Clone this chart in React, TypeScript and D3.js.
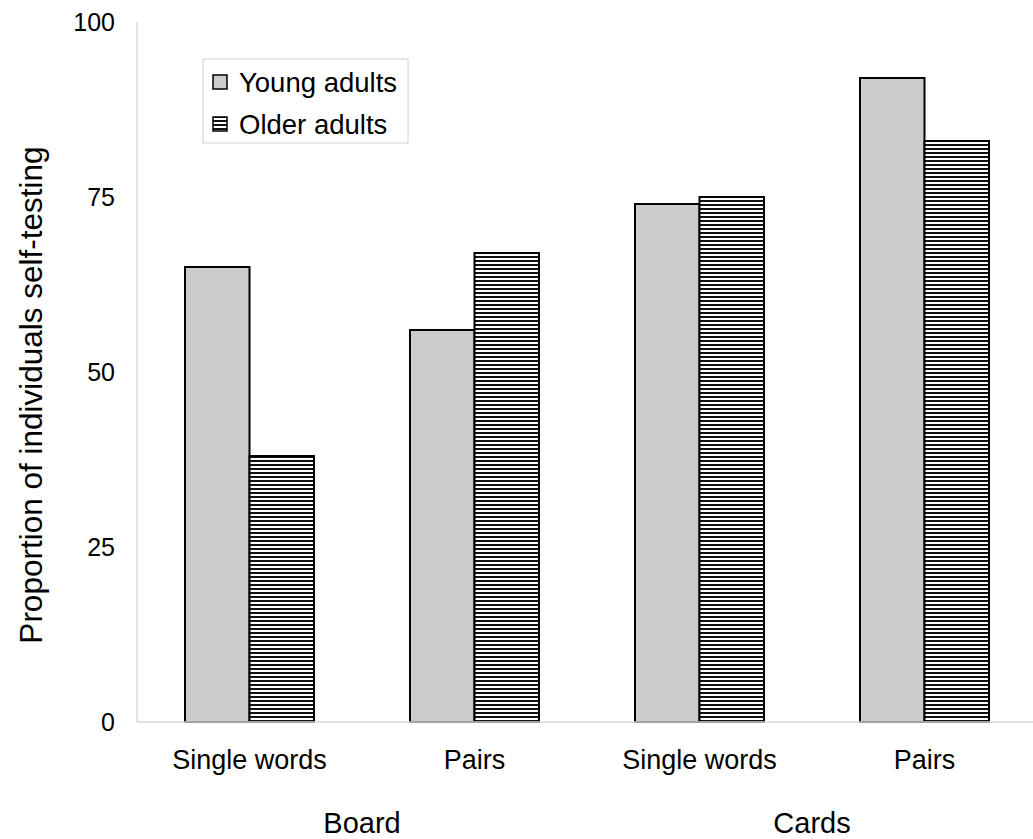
import React from "react";
import * as d3 from "d3";

const categories = ["Single words", "Pairs", "Single words", "Pairs"];
const groups = ["Board", "Cards"];
const series = ["Young adults", "Older adults"];
const youngValues = [65, 56, 74, 92];
const olderValues = [38, 67, 75, 83];
const yTicks = [0, 25, 50, 75, 100];

const W = 1033;
const H = 839;
const left = 137;
const right = 1037;
const top = 22;
const bottom = 722;

export default function App() {
  const x = d3.scaleBand<number>().domain(d3.range(categories.length)).range([left, right]);
  const y = d3.scaleLinear().domain([0, 100]).range([bottom, top]);
  const barW = 64.5;
  const font = "Arial, 'Liberation Sans', sans-serif";
  const data = categories.map((c, i) => ({ c, i, v: [youngValues[i], olderValues[i]] }));

  return (
    <svg width={W} height={H} style={{ position: "absolute", left: 0, top: 0 }} fontFamily={font}>
      <defs>
        <pattern id="hatch" patternUnits="userSpaceOnUse" width={8} height={4}>
          <rect width={8} height={4} fill="#fff" />
          <rect y={0} width={8} height={2} fill="#111" />
        </pattern>
      </defs>
      <rect width={W} height={H} fill="#fff" />
      <line x1={left} x2={left} y1={top} y2={bottom} stroke="#d8d8d8" strokeWidth={1.5} />
      {yTicks.map((t) => (
        <text key={t} x={115} y={y(t)} dy="0.35em" textAnchor="end" fontSize={25} fill="#000">
          {t}
        </text>
      ))}
      {data.map((d) => {
        const cx = x(d.i)! + x.bandwidth() / 2;
        return (
          <g key={d.i}>
            {d.v.map((v, s) => (
              <rect
                key={s}
                x={cx - barW + s * barW}
                y={y(v)}
                width={barW}
                height={bottom - y(v)}
                fill={s === 0 ? "#cccccc" : "url(#hatch)"}
                stroke="#000"
                strokeWidth={2}
              />
            ))}
            <text x={cx} y={760} dy="0.35em" textAnchor="middle" fontSize={27} fill="#000">
              {d.c}
            </text>
          </g>
        );
      })}
      <line x1={left} x2={W} y1={bottom} y2={bottom} stroke="#d8d8d8" strokeWidth={1.5} />
      {groups.map((g, gi) => {
        const cx = (x(gi * 2)! + x(gi * 2 + 1)! + x.bandwidth()) / 2;
        return (
          <text key={g} x={cx} y={823} dy="0.35em" textAnchor="middle" fontSize={29} fill="#000">
            {g}
          </text>
        );
      })}
      <text
        transform={`translate(31, 395) rotate(-90)`}
        textAnchor="middle"
        dy="0.35em"
        fontSize={31.5}
        fill="#000"
      >
        Proportion of individuals self-testing
      </text>
      <rect x={203} y={59} width={205} height={84} fill="#fff" stroke="#d0d0d0" strokeWidth={1} />
      {series.map((s, i) => (
        <g key={s} transform={`translate(213, ${82 + i * 42})`}>
          <rect x={0} y={-7} width={14} height={14} fill={i === 0 ? "#cccccc" : "url(#hatch)"} stroke="#000" strokeWidth={1.5} />
          <text x={26} y={0} dy="0.35em" fontSize={27.5} fill="#000">
            {s}
          </text>
        </g>
      ))}
    </svg>
  );
}
